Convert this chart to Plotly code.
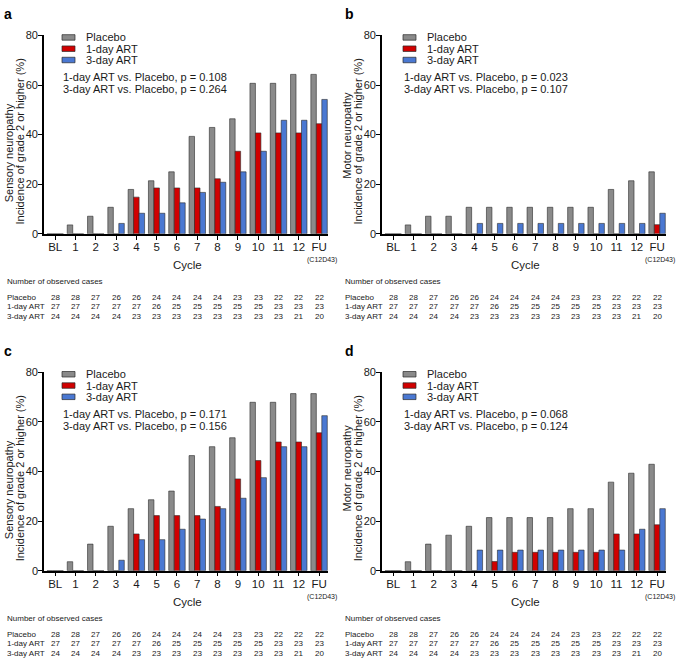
import plotly.graph_objects as go

W, H = 676, 667

cycles = ["BL", "1", "2", "3", "4", "5", "6", "7", "8", "9", "10", "11", "12", "FU"]
series_names = ["Placebo", "1-day ART", "3-day ART"]
series_colors = ["#8a8a8a", "#d10000", "#4a78d2"]

# Panel a: sensory neuropathy
a_placebo = [0, 3.6, 7.1, 10.7, 17.9, 21.4, 25.0, 39.3, 42.9, 46.4, 60.7, 60.7, 64.3, 64.3]
a_1day = [0, 0, 0, 0, 14.8, 18.5, 18.5, 18.5, 22.2, 33.3, 40.7, 40.7, 40.7, 44.4]
a_3day = [0, 0, 0, 4.2, 8.3, 8.3, 12.5, 16.7, 20.8, 25.0, 33.3, 45.8, 45.8, 54.2]
a_pvalues = ["1-day ART vs. Placebo, p = 0.108", "3-day ART vs. Placebo, p = 0.264"]

# Panel b: motor neuropathy
b_placebo = [0, 3.6, 7.1, 7.1, 10.7, 10.7, 10.7, 10.7, 10.7, 10.7, 10.7, 17.9, 21.4, 25.0]
b_1day = [0, 0, 0, 0, 0, 0, 0, 0, 0, 0, 0, 0, 0, 3.7]
b_3day = [0, 0, 0, 0, 4.2, 4.2, 4.2, 4.2, 4.2, 4.2, 4.2, 4.2, 4.2, 8.3]
b_pvalues = ["1-day ART vs. Placebo, p = 0.023", "3-day ART vs. Placebo, p = 0.107"]

# Panel c: sensory neuropathy
c_placebo = [0, 3.6, 10.7, 17.9, 25.0, 28.6, 32.1, 46.4, 50.0, 53.6, 67.9, 67.9, 71.4, 71.4]
c_1day = [0, 0, 0, 0, 14.8, 22.2, 22.2, 22.2, 25.9, 37.0, 44.4, 51.9, 51.9, 55.6]
c_3day = [0, 0, 0, 4.2, 12.5, 12.5, 16.7, 20.8, 25.0, 29.2, 37.5, 50.0, 50.0, 62.5]
c_pvalues = ["1-day ART vs. Placebo, p = 0.171", "3-day ART vs. Placebo, p = 0.156"]

# Panel d: motor neuropathy
d_placebo = [0, 3.6, 10.7, 14.3, 17.9, 21.4, 21.4, 21.4, 21.4, 25.0, 25.0, 35.7, 39.3, 42.9]
d_1day = [0, 0, 0, 0, 0, 3.7, 7.4, 7.4, 7.4, 7.4, 7.4, 14.8, 14.8, 18.5]
d_3day = [0, 0, 0, 0, 8.3, 8.3, 8.3, 8.3, 8.3, 8.3, 8.3, 8.3, 16.7, 25.0]
d_pvalues = ["1-day ART vs. Placebo, p = 0.068", "3-day ART vs. Placebo, p = 0.124"]

# Number of observed cases
n_placebo = [28, 28, 27, 26, 26, 24, 24, 24, 24, 23, 23, 22, 22, 22]
n_1day = [27, 27, 27, 27, 27, 26, 25, 25, 25, 25, 25, 23, 23, 23]
n_3day = [24, 24, 24, 24, 23, 23, 23, 23, 23, 23, 23, 23, 21, 20]

y_ticks = [0, 20, 40, 60, 80]

FONT = "Liberation Sans, Arial, sans-serif"
TXT = "#1a1a1a"


def px_x(p):
    return p / W


def px_y(p):
    return 1 - p / H


panels = [
    dict(letter="a", ox=0, oy=0, data=[a_placebo, a_1day, a_3day], t1="Sensory neuropathy", t1y=150,
         pv=a_pvalues),
    dict(letter="b", ox=338, oy=0, data=[b_placebo, b_1day, b_3day], t1="Motor neuropathy", t1y=132,
         pv=b_pvalues),
    dict(letter="c", ox=0, oy=343, data=[c_placebo, c_1day, c_3day], t1="Sensory neuropathy", t1y=150,
         pv=c_pvalues),
    dict(letter="d", ox=338, oy=343, data=[d_placebo, d_1day, d_3day], t1="Motor neuropathy", t1y=128,
         pv=d_pvalues),
]

fig = go.Figure()
annotations = []
shapes = []
counts = [n_placebo, n_1day, n_3day]

for i, p in enumerate(panels):
    k = "" if i == 0 else str(i + 1)
    xa, ya = "x" + k, "y" + k
    ox, oy = p["ox"], p["oy"]
    for name, col, vals in zip(series_names, series_colors, p["data"]):
        fig.add_trace(go.Bar(
            x=cycles, y=vals, name=name, xaxis=xa, yaxis=ya,
            marker=dict(color=col, line=dict(color="#2a2a2a", width=0.6)),
            showlegend=False,
        ))
    fig.layout["xaxis" + k] = dict(
        domain=[px_x(44 + ox), px_x(328 + ox)], anchor=ya, type="category",
        range=[-0.55, 13.44], showline=True, linecolor="black", linewidth=1.6,
        ticks="outside", ticklen=4, tickwidth=1.4, tickcolor="black", ticklabelstandoff=-2,
        tickfont=dict(size=11.5, color=TXT, family=FONT), showgrid=False, zeroline=False,
        fixedrange=True,
    )
    fig.layout["yaxis" + k] = dict(
        domain=[px_y(232 + oy), px_y(30 + oy)], anchor=xa, range=[0, 80],
        tickvals=y_ticks, showline=True, linecolor="black", linewidth=1.6,
        ticks="outside", ticklen=4, tickwidth=1.4, tickcolor="black", ticklabelstandoff=-2,
        tickfont=dict(size=11, color=TXT, family=FONT), showgrid=False, zeroline=False,
        fixedrange=True,
    )
    # panel letter
    annotations.append(dict(text="<b>%s</b>" % p["letter"], x=px_x(8 + ox + (3 if ox else 0)), y=px_y(8 + oy),
                            xref="paper", yref="paper", xanchor="center", yanchor="middle",
                            showarrow=False, font=dict(size=14, color="black", family=FONT)))
    # y titles
    annotations.append(dict(text=p["t1"], x=px_x(9 + ox), y=px_y(p["t1y"] + oy), xref="paper", yref="paper",
                            textangle=-90, xanchor="center", yanchor="middle", showarrow=False,
                            font=dict(size=11, color=TXT, family=FONT)))
    annotations.append(dict(text="Incidence of grade 2 or higher (%)", x=px_x(20 + ox), y=px_y(138 + oy),
                            xref="paper", yref="paper", textangle=-90, xanchor="center", yanchor="middle",
                            showarrow=False, font=dict(size=11, color=TXT, family=FONT)))
    # custom legend
    lx = 62 + ox + (3 if ox else 0)
    for j, (name, col) in enumerate(zip(series_names, series_colors)):
        ry = [32, 43.5, 55][j] + oy
        shapes.append(dict(type="rect", xref="paper", yref="paper",
                           x0=px_x(lx), x1=px_x(lx + 13), y0=px_y(ry + 2.8), y1=px_y(ry - 2.8),
                           fillcolor=col, line=dict(color="#2a2a2a", width=0.7)))
        annotations.append(dict(text=name, x=px_x(lx + 22), y=px_y(ry), xref="paper", yref="paper",
                                xanchor="left", yanchor="middle", showarrow=False,
                                font=dict(size=11, color=TXT, family=FONT)))
    for j, t in enumerate(p["pv"]):
        annotations.append(dict(text=t, x=px_x(lx - 1), y=px_y([72, 84.5][j] + oy), xref="paper", yref="paper",
                                xanchor="left", yanchor="middle", showarrow=False,
                                font=dict(size=11, color=TXT, family=FONT)))
    # Cycle label
    annotations.append(dict(text="Cycle", x=6.5, xref=xa, y=px_y(264 + oy), yref="paper",
                            xanchor="center", yanchor="middle", showarrow=False,
                            font=dict(size=11.5, color=TXT, family=FONT)))
    annotations.append(dict(text="(C12D43)", x="FU", xref=xa, xshift=3, y=px_y(259 + oy), yref="paper",
                            xanchor="center", yanchor="middle", showarrow=False,
                            font=dict(size=7, color=TXT, family=FONT)))
    # table
    annotations.append(dict(text="Number of observed cases", x=px_x(5 + ox), y=px_y(281 + oy),
                            xref="paper", yref="paper", xanchor="left", yanchor="middle",
                            showarrow=False, font=dict(size=8, color=TXT, family=FONT)))
    for j, (name, row) in enumerate(zip(series_names, counts)):
        ry = [297, 306.5, 316][j] + oy
        annotations.append(dict(text=name, x=px_x(5 + ox), y=px_y(ry), xref="paper", yref="paper",
                                xanchor="left", yanchor="middle", showarrow=False,
                                font=dict(size=8, color=TXT, family=FONT)))
        for c, v in zip(cycles, row):
            annotations.append(dict(text=str(v), x=c, xref=xa, y=px_y(ry), yref="paper",
                                    xanchor="center", yanchor="middle", showarrow=False,
                                    font=dict(size=8, color=TXT, family=FONT)))

fig.update_layout(
    width=W, height=H, margin=dict(l=0, r=0, t=0, b=0),
    paper_bgcolor="white", plot_bgcolor="white",
    barmode="group", bargap=0.19, bargroupgap=0,
    showlegend=False,
    annotations=annotations, shapes=shapes,
    font=dict(family=FONT, color=TXT),
)

fig.write_html(
    "out.html",
    config={"displayModeBar": False},
    post_script="document.body.style.margin='0';document.body.style.overflow='hidden';",
)
